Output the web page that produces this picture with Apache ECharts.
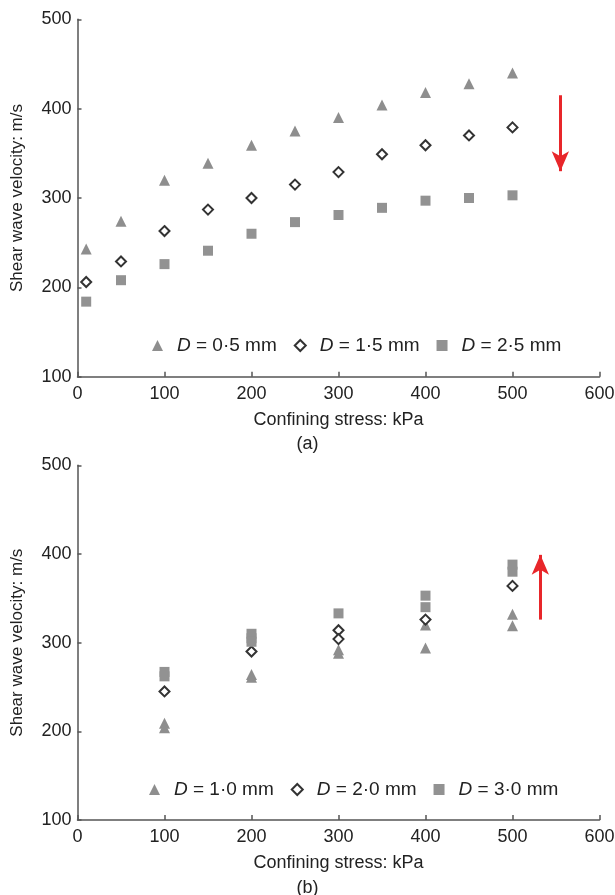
<!DOCTYPE html>
<html>
<head>
<meta charset="utf-8">
<script src="https://cdn.jsdelivr.net/npm/echarts@6/dist/echarts.min.js"></script>
<style>html,body{margin:0;padding:0;background:#fff}#c{width:615px;height:895px}</style>
</head>
<body>
<div id="c"></div>
<script>
// ---- Panel (a) data ----
const stressA = [10, 50, 100, 150, 200, 250, 300, 350, 400, 450, 500];
const vsD05 = [243, 274, 320, 339, 359, 375, 390, 404, 418, 428, 440];
const vsD15 = [206, 229, 263, 287, 300, 315, 329, 349, 359, 370, 379];
const vsD25 = [184, 208, 226, 241, 260, 273, 281, 289, 297, 300, 303];
const namesA = ['D = 0·5 mm', 'D = 1·5 mm', 'D = 2·5 mm'];

// ---- Panel (b) data ----
const stressB10 = [100, 100, 200, 200, 300, 300, 400, 400, 500, 500];
const vsD10 = [209, 204, 264, 261, 292, 288, 320, 294, 332, 319];
const stressB20 = [100, 200, 300, 300, 400, 500];
const vsD20 = [245, 290, 314, 304, 326, 364];
const stressB30 = [100, 100, 200, 200, 200, 300, 400, 400, 500, 500];
const vsD30 = [267, 262, 310, 305, 301, 333, 353, 340, 388, 380];
const namesB = ['D = 1·0 mm', 'D = 2·0 mm', 'D = 3·0 mm'];

// arrows (trend direction): [x, yFrom, yTo]
const arrowA = [555, 415, 330];
const arrowB = [532, 326, 399];

function pairs(xs, ys) { return xs.map((x, i) => [x, ys[i]]); }

const FONT = '"Liberation Sans", Arial, sans-serif';
const AX = '#555';
const GRAY = '#8e8e8e';
const TXT = '#222';

function xAxis(gi) {
  return {
    type: 'value', gridIndex: gi, min: 0, max: 600, interval: 100,
    name: 'Confining stress: kPa', nameLocation: 'middle', nameGap: 34,
    nameTextStyle: { fontFamily: FONT, fontSize: 18, color: TXT },
    axisLine: { show: true, lineStyle: { color: AX, width: 1.5 } },
    axisTick: { show: true, inside: true, length: 5, lineStyle: { color: AX, width: 1.5 } },
    axisLabel: { fontFamily: FONT, fontSize: 18, color: TXT, margin: 8 },
    splitLine: { show: false }
  };
}
function yAxis(gi) {
  return {
    type: 'value', gridIndex: gi, min: 100, max: 500, interval: 100,
    name: 'Shear wave velocity: m/s', nameLocation: 'middle', nameGap: 52, nameRotate: 90,
    nameTextStyle: { fontFamily: FONT, fontSize: 17, color: TXT },
    axisLine: { show: true, lineStyle: { color: AX, width: 1.5 } },
    axisTick: { show: true, inside: true, length: 4, lineStyle: { color: AX, width: 1.5 } },
    axisLabel: { fontFamily: FONT, fontSize: 18, color: TXT, margin: 6 },
    splitLine: { show: false }
  };
}
function tri(name, data, gi) {
  return { type: 'scatter', name, xAxisIndex: gi, yAxisIndex: gi, data, symbol: 'triangle', symbolSize: 11, itemStyle: { color: GRAY, opacity: 1 } };
}
function dia(name, data, gi) {
  return { type: 'scatter', name, xAxisIndex: gi, yAxisIndex: gi, data, symbol: 'diamond', symbolSize: 10, itemStyle: { color: '#fff', borderColor: '#333', borderWidth: 2, opacity: 1 } };
}
function sq(name, data, gi) {
  return { type: 'scatter', name, xAxisIndex: gi, yAxisIndex: gi, data, symbol: 'rect', symbolSize: 10, itemStyle: { color: '#929292', opacity: 1 } };
}
function arrow(a, gi) {
  return {
    type: 'scatter', xAxisIndex: gi, yAxisIndex: gi, data: [], silent: true,
    markLine: {
      silent: true, symbol: ['none', 'arrow'], symbolSize: [13, 20],
      label: { show: false },
      lineStyle: { color: '#e8262a', width: 3, type: 'solid' },
      data: [[{ coord: [a[0], a[1]] }, { coord: [a[0], a[2]] }]]
    }
  };
}
function legend(names, left, top) {
  return {
    data: names, left, top, orient: 'horizontal',
    itemWidth: 11, itemHeight: 11, itemGap: 17,
    selectedMode: false,
    formatter: n => '{s|}{i|D}' + n.slice(1),
    textStyle: {
      fontFamily: FONT, fontSize: 19, color: TXT,
      rich: {
        s: { width: 9 },
        i: { fontFamily: FONT, fontSize: 19, fontStyle: 'italic', color: TXT }
      }
    }
  };
}

const chart = echarts.init(document.getElementById('c'), null, { renderer: 'canvas' });
chart.setOption({
  animation: false,
  backgroundColor: '#fff',
  title: [
    { text: '(a)', left: 'center', top: 435, padding: 0, textStyle: { fontFamily: FONT, fontSize: 18, fontWeight: 'normal', color: TXT } },
    { text: '(b)', left: 'center', top: 879, padding: 0, textStyle: { fontFamily: FONT, fontSize: 18, fontWeight: 'normal', color: TXT } }
  ],
  grid: [
    { left: 77.5, right: 15.5, top: 19.3, height: 357.4, outerBoundsMode: 'none', containLabel: false },
    { left: 77.5, right: 15.5, top: 465.3, height: 354.7, outerBoundsMode: 'none', containLabel: false }
  ],
  xAxis: [xAxis(0), xAxis(1)],
  yAxis: [yAxis(0), yAxis(1)],
  legend: [legend(namesA, 147, 331), legend(namesB, 144, 775)],
  series: [
    tri(namesA[0], pairs(stressA, vsD05), 0),
    dia(namesA[1], pairs(stressA, vsD15), 0),
    sq(namesA[2], pairs(stressA, vsD25), 0),
    tri(namesB[0], pairs(stressB10, vsD10), 1),
    dia(namesB[1], pairs(stressB20, vsD20), 1),
    sq(namesB[2], pairs(stressB30, vsD30), 1),
    arrow(arrowA, 0),
    arrow(arrowB, 1)
  ]
});
</script>
</body>
</html>
